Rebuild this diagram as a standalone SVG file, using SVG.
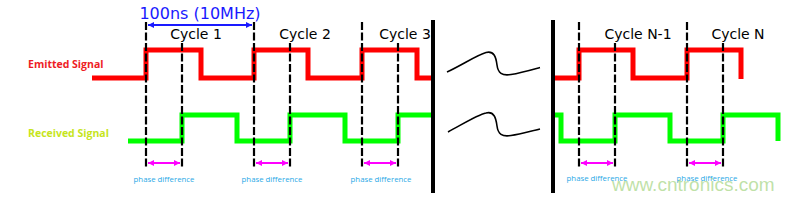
<svg xmlns="http://www.w3.org/2000/svg" width="796" height="200" viewBox="0 0 796 200">
<defs>
<style>
.sig{fill:none;stroke-width:5;stroke-linejoin:miter;stroke-linecap:butt}
.red{stroke:#ff0000}
.grn{stroke:#00ff00}
.dash{stroke:#000;stroke-width:2.2;stroke-dasharray:8 2.5}
.bar{stroke:#000;stroke-width:4}
.cyc{font-family:"DejaVu Sans",sans-serif;font-size:14px;fill:#000;text-anchor:middle}
.ph{font-family:"Open Sans","Noto Sans",sans-serif;font-size:7.8px;fill:#2aa9e6;text-anchor:middle}
.lbl{font-family:"Open Sans","Noto Sans",sans-serif;font-size:10.5px;font-weight:bold}
.pharr{stroke:#ff00ff;stroke-width:2;marker-start:url(#mS);marker-end:url(#mE)}
.wave{fill:none;stroke:#000;stroke-width:1.6}
</style>
<marker id="mE" viewBox="0 0 6 6" refX="6" refY="3" markerWidth="3" markerHeight="3" orient="auto" markerUnits="strokeWidth"><path d="M0,0 L6,3 L0,6 Z" fill="#ff00ff"/></marker>
<marker id="mS" viewBox="0 0 6 6" refX="0" refY="3" markerWidth="3" markerHeight="3" orient="auto" markerUnits="strokeWidth"><path d="M6,0 L0,3 L6,6 Z" fill="#ff00ff"/></marker>
<marker id="bE" viewBox="0 0 6 6" refX="6" refY="3" markerWidth="3" markerHeight="3" orient="auto" markerUnits="strokeWidth"><path d="M0,0 L6,3 L0,6 Z" fill="#1a1aff"/></marker>
<marker id="bS" viewBox="0 0 6 6" refX="0" refY="3" markerWidth="3" markerHeight="3" orient="auto" markerUnits="strokeWidth"><path d="M6,0 L0,3 L6,6 Z" fill="#1a1aff"/></marker>
</defs>
<rect width="796" height="200" fill="#fff"/>

<g id="emitted-signal">
<text class="lbl" x="28" y="68" fill="#ee1c25">Emitted Signal</text>
<path class="sig red" d="M92,78 H146 V50 H201 V78 H254 V50 H308 V78 H362 V50 H417 V78 H433"/>
<path class="sig red" d="M555,78 H579 V50 H633 V78 H687 V50 H741 V79"/>
</g>

<g id="received-signal">
<text class="lbl" x="28" y="137" fill="#c6e51c">Received Signal</text>
<path class="sig grn" d="M128,141 H182 V115 H237 V141 H290 V115 H345 V141 H398 V115 H433"/>
<path class="sig grn" d="M555,115 H561 V141 H615 V115 H670 V141 H723 V115 H778 V141"/>
</g>

<g id="connectors">
<line class="dash" x1="146" y1="22" x2="146" y2="167"/>
<line class="dash" x1="254" y1="22" x2="254" y2="167"/>
<line class="dash" x1="362" y1="22" x2="362" y2="167"/>
<line class="dash" x1="579" y1="22" x2="579" y2="167"/>
<line class="dash" x1="687" y1="22" x2="687" y2="167"/>
<line class="dash" x1="182" y1="43" x2="182" y2="167"/>
<line class="dash" x1="290" y1="43" x2="290" y2="167"/>
<line class="dash" x1="398" y1="43" x2="398" y2="167"/>
<line class="dash" x1="615" y1="43" x2="615" y2="167"/>
<line class="dash" x1="723" y1="43" x2="723" y2="167"/>
<line class="bar" x1="433" y1="20" x2="433" y2="193"/>
<line class="bar" x1="553" y1="20" x2="553" y2="193"/>
<line x1="148" y1="25" x2="252" y2="25" stroke="#1a1aff" stroke-width="2" marker-start="url(#bS)" marker-end="url(#bE)"/>
<line class="pharr" x1="148" y1="163" x2="180" y2="163"/>
<line class="pharr" x1="256" y1="163" x2="288" y2="163"/>
<line class="pharr" x1="364" y1="163" x2="396" y2="163"/>
<line class="pharr" x1="581" y1="163" x2="613" y2="163"/>
<line class="pharr" x1="689" y1="163" x2="721" y2="163"/>
<path class="wave" d="M447,72 C462,65 477,55 486,52.5 C494,50.5 496,57 497,65 C498,73 502,76 511,74.5 C521,73 531,70 540,67.5"/>
<path class="wave" d="M448,132 C463,124 477,115 486,113 C494,111 496,118 497,126 C498,134 502,137 511,135.5 C521,134 531,131 540,129"/>
</g>

<g id="labels">
<text x="200" y="19" font-family="DejaVu Sans,sans-serif" font-size="16" fill="#1a1aff" text-anchor="middle">100ns (10MHz)</text>
<text class="cyc" x="196" y="39">Cycle 1</text>
<text class="cyc" x="305" y="39">Cycle 2</text>
<text class="cyc" x="405" y="39">Cycle 3</text>
<text class="cyc" x="638" y="39">Cycle N-1</text>
<text class="cyc" x="738" y="39">Cycle N</text>
<text class="ph" x="164" y="182">phase difference</text>
<text class="ph" x="272" y="182">phase difference</text>
<text class="ph" x="381" y="182">phase difference</text>
<text class="ph" x="597" y="181">phase difference</text>
<text class="ph" x="707" y="181">phase difference</text>
<text x="612" y="191" font-family="Liberation Sans,Arial,sans-serif" font-size="19" fill="#b4dc98" fill-opacity="0.85">www.cntronics.com</text>
</g>
</svg>
